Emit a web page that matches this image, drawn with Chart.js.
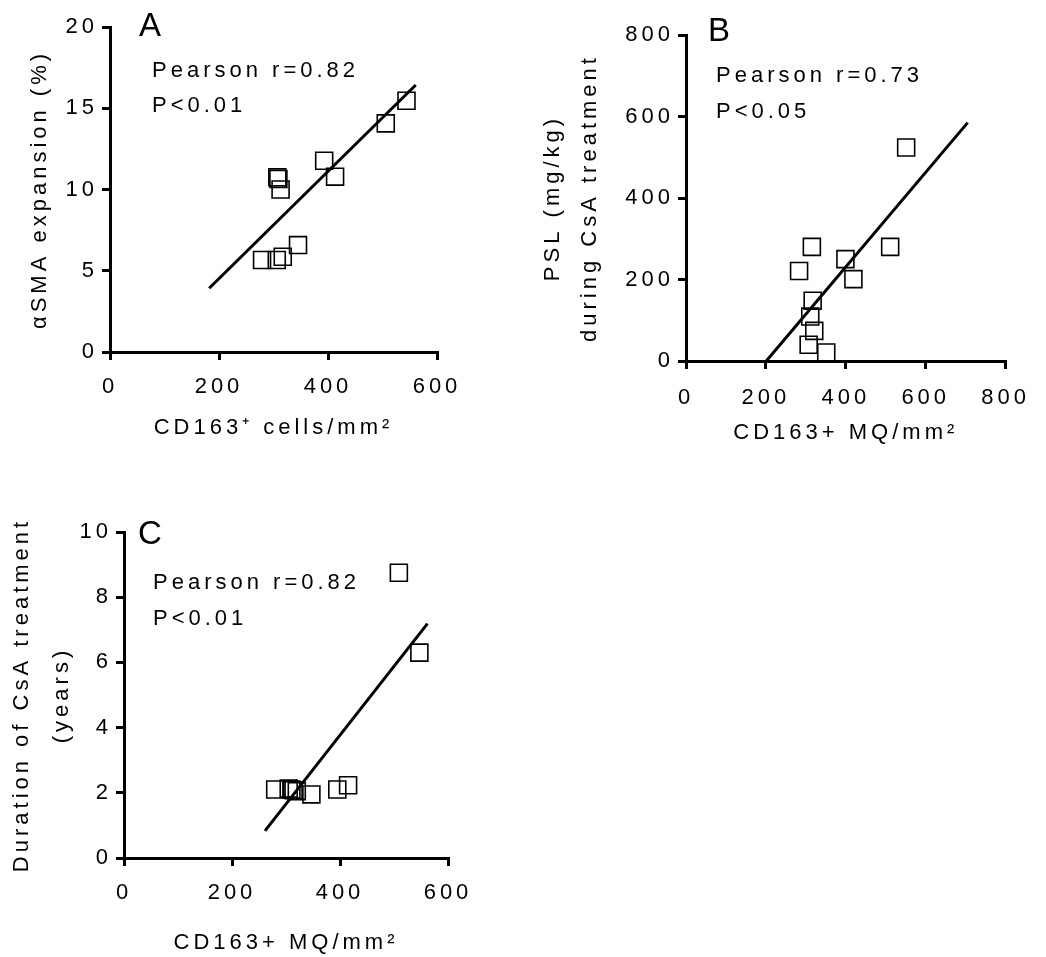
<!DOCTYPE html>
<html>
<head>
<meta charset="utf-8">
<script src="https://cdn.jsdelivr.net/npm/chart.js@4.4.1/dist/chart.umd.min.js"></script>
<style>
    body { margin: 0; background: #fff; }
    #wrap { position: relative; width: 1046px; height: 957px; }
    canvas { position: absolute; }
</style>
</head>
<body>
<div id="wrap">
    <canvas id="chartA" width="500" height="460" style="left:0;top:0"></canvas>
    <canvas id="chartB" width="526" height="470" style="left:520px;top:0"></canvas>
    <canvas id="chartC" width="500" height="477" style="left:0;top:480px"></canvas>
</div>
<script>
// Panel A: aSMA expansion vs CD163+ cells
const aX = [279, 306, 317, 345, 307, 309, 313, 393, 413, 506, 544];
const aY = [5.66, 5.66, 5.86, 6.58, 10.75, 10.65, 10.0, 11.77, 10.79, 14.07, 15.46];
const aFitX = [182, 561];
const aFitY = [3.92, 16.43];
const aTicksX = [0, 200, 400, 600];
const aTicksY = [0, 5, 10, 15, 20];

// Panel B: PSL during CsA vs CD163+ MQ
const bX = [551, 315, 283, 399, 511, 419, 317, 311, 321, 307, 351];
const bY = [524, 280, 221, 250, 280, 201, 148, 109, 74, 40, 21];
const bFitX = [201, 705];
const bFitY = [0, 585];
const bTicksX = [0, 200, 400, 600, 800];
const bTicksY = [0, 200, 400, 600, 800];

// Panel C: duration of CsA vs CD163+ MQ
const cX = [509, 547, 415, 395, 347, 314, 305, 310, 320, 280];
const cY = [8.75, 6.3, 2.23, 2.1, 1.95, 2.08, 2.13, 2.1, 2.05, 2.1];
const cFitX = [261, 562];
const cFitY = [0.83, 7.19];
const cTicksX = [0, 200, 400, 600];
const cTicksY = [0, 2, 4, 6, 8, 10];

const FONT = '"Liberation Sans", Arial, sans-serif';
const SPACING = "4px";
Chart.defaults.font.family = FONT;
Chart.defaults.color = "#000";

// wide letter spacing like the original figure
const spacing = {
    id: "spacing",
    beforeUpdate(chart) { chart.ctx.letterSpacing = SPACING; },
    beforeDraw(chart) { chart.ctx.letterSpacing = SPACING; }
};

// panel letter and Pearson text
const panelText = {
    id: "panelText",
    afterDraw(chart, args, opts) {
        const { ctx, chartArea } = chart;
        ctx.save();
        ctx.fillStyle = "#000";
        ctx.textAlign = "left";
        ctx.textBaseline = "alphabetic";
        ctx.letterSpacing = "0px";
        ctx.font = "33px " + FONT;
        ctx.fillText(opts.letter, chartArea.left + opts.letterX, chartArea.top + opts.letterY);
        ctx.letterSpacing = SPACING;
        ctx.font = "22px " + FONT;
        opts.lines.forEach((t, i) => {
            ctx.fillText(t, chartArea.left + opts.textX, chartArea.top + opts.textY + i * opts.gap);
        });
        ctx.restore();
    }
};

function toPoints(xs, ys) {
    return xs.map((x, i) => ({ x: x, y: ys[i] }));
}

function makePanel(id, cfg) {
    const axisCommon = {
        grid: { drawOnChartArea: false, drawTicks: true, tickLength: 8, lineWidth: 3, color: "#000" },
        border: { display: true, width: 3, color: "#000" },
    };
    new Chart(document.getElementById(id), {
        type: "scatter",
        data: {
            datasets: [{
                data: toPoints(cfg.x, cfg.y),
                pointStyle: "rect",
                pointRadius: 12,
                pointHoverRadius: 12,
                borderWidth: 1.6,
                borderColor: "#000",
                backgroundColor: "rgba(0,0,0,0)",
            }, {
                data: toPoints(cfg.fitX, cfg.fitY),
                showLine: true,
                pointRadius: 0,
                borderColor: "#000",
                borderWidth: 3,
                fill: false,
            }],
        },
        options: {
            responsive: false,
            animation: false,
            devicePixelRatio: 1,
            events: [],
            layout: { padding: { left: 0, top: cfg.top, right: cfg.right, bottom: 0 } },
            plugins: {
                legend: { display: false },
                tooltip: { enabled: false },
                panelText: cfg.text,
            },
            scales: {
                x: {
                    ...axisCommon,
                    min: cfg.ticksX[0],
                    max: cfg.ticksX[cfg.ticksX.length - 1],
                    afterBuildTicks: s => { s.ticks = cfg.ticksX.map(v => ({ value: v })); },
                    afterFit: s => { s.height = cfg.xHeight; },
                    ticks: { font: { size: 22 }, padding: cfg.xTickPad, maxRotation: 0 },
                    title: {
                        display: true,
                        text: cfg.xTitle,
                        font: { size: 22, lineHeight: 1.2 },
                        padding: { top: 0, bottom: cfg.xTitlePad },
                    },
                },
                y: {
                    ...axisCommon,
                    min: cfg.ticksY[0],
                    max: cfg.ticksY[cfg.ticksY.length - 1],
                    afterBuildTicks: s => { s.ticks = cfg.ticksY.map(v => ({ value: v })); },
                    afterFit: s => { s.width = cfg.yWidth; },
                    ticks: { font: { size: 22 }, padding: 4 },
                    title: {
                        display: true,
                        text: cfg.yTitle,
                        font: { size: 22, lineHeight: cfg.yLineHeight },
                        padding: { top: cfg.yTitlePad, bottom: 0 },
                    },
                },
            },
        },
        plugins: [spacing, panelText],
    });
}

makePanel("chartA", {
    x: aX, y: aY, fitX: aFitX, fitY: aFitY, ticksX: aTicksX, ticksY: aTicksY,
    top: 27, right: 63, yWidth: 110, xHeight: 108,
    xTickPad: 14, xTitlePad: 19, yTitlePad: 27, yLineHeight: 1.2,
    xTitle: "CD163\u207A cells/mm\u00B2",
    yTitle: "\u03B1SMA expansion (%)",
    text: { letter: "A", letterX: 29, letterY: 9, lines: ["Pearson r=0.82", "P<0.01"], textX: 42, textY: 50, gap: 35 },
});

makePanel("chartB", {
    x: bX, y: bY, fitX: bFitX, fitY: bFitY, ticksX: bTicksX, ticksY: bTicksY,
    top: 35, right: 36, yWidth: 166, xHeight: 109,
    xTickPad: 16, xTitlePad: 24, yTitlePad: 14, yLineHeight: 1.68,
    xTitle: "CD163+ MQ/mm\u00B2",
    yTitle: ["PSL (mg/kg)", "during CsA treatment"],
    text: { letter: "B", letterX: 22, letterY: 6, lines: ["Pearson r=0.73", "P<0.05"], textX: 30, textY: 47, gap: 36 },
});

makePanel("chartC", {
    x: cX, y: cY, fitX: cFitX, fitY: cFitY, ticksX: cTicksX, ticksY: cTicksY,
    top: 52, right: 52, yWidth: 124, xHeight: 99,
    xTickPad: 14, xTitlePad: 1, yTitlePad: 2, yLineHeight: 1.82,
    xTitle: "CD163+ MQ/mm\u00B2",
    yTitle: ["Duration of CsA treatment", "(years)"],
    text: { letter: "C", letterX: 14, letterY: 12, lines: ["Pearson r=0.82", "P<0.01"], textX: 29, textY: 57, gap: 36 },
});
</script>
</body>
</html>
